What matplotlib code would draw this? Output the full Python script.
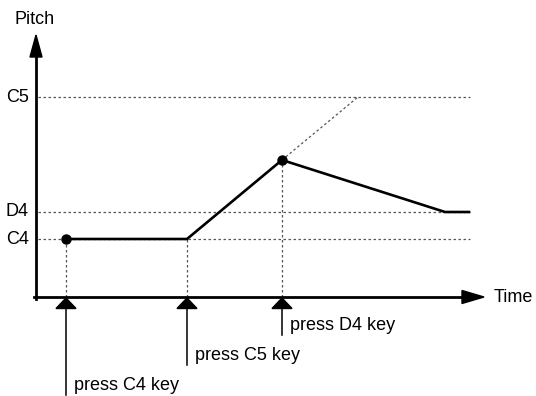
import matplotlib.pyplot as plt
from matplotlib.patches import Polygon

plt.rcParams['font.family'] = ['Liberation Sans', 'DejaVu Sans']

# pitch levels (schematic units above the time axis)
pitch_names = ["C4", "D4", "C5"]
pitch_levels = [0.58, 0.85, 2.00]

# times of key presses and their labels
press_times = [0.30, 1.51, 2.46]
press_labels = ["press C4 key", "press C5 key", "press D4 key"]
press_depth = [-0.98, -0.68, -0.38]   # how far each pointer reaches below the axis

# pitch curve (solid)
curve_t = [0.30, 1.51, 2.46, 4.09, 4.33]
curve_p = [0.58, 0.58, 1.37, 0.85, 0.85]
# where the glide would have continued (dotted)
ext_t = [2.46, 3.22]
ext_p = [1.37, 2.00]
dot_t = [0.30, 2.46]
dot_p = [0.58, 1.37]

fs = 13

fig = plt.figure(figsize=(5.36, 3.96), dpi=100)
ax = fig.add_axes([0, 0, 1, 1])
ax.set_xlim(-0.36, 5.00)
ax.set_ylim(-0.99, 2.97)
ax.axis('off')

dot_style = dict(color='#555555', lw=0.9, ls=(0, (2, 2)))

# horizontal guides
for name, lv in zip(pitch_names, pitch_levels):
    ax.plot([0.02, 4.34], [lv, lv], **dot_style)
    ax.text(-0.07, lv, name, ha='right', va='center', fontsize=fs)

# vertical guides from curve down to axis
ax.plot([press_times[0]] * 2, [0, pitch_levels[0]], **dot_style)
ax.plot([press_times[1]] * 2, [0, pitch_levels[0]], **dot_style)
ax.plot([press_times[2]] * 2, [0, curve_p[2]], **dot_style)
ax.plot(ext_t, ext_p, **dot_style)

# curve
ax.plot(curve_t, curve_p, color='black', lw=1.9, solid_joinstyle='miter')
ax.plot(dot_t, dot_p, 'o', color='black', ms=6.5)

# axes with arrows
ax.plot([0, 0], [-0.02, 2.42], color='black', lw=2.0)
ax.add_patch(Polygon([[-0.06, 2.40], [0.06, 2.40], [0, 2.62]], closed=True, color='black'))
ax.plot([-0.02, 4.28], [0, 0], color='black', lw=2.0)
ax.add_patch(Polygon([[4.26, 0.065], [4.26, -0.065], [4.48, 0]], closed=True, color='black'))
ax.text(-0.01, 2.77, "Pitch", ha='center', va='center', fontsize=fs)
ax.text(4.58, 0.0, "Time", ha='left', va='center', fontsize=fs)

# key press pointers
for t, lab, d in zip(press_times, press_labels, press_depth):
    ax.plot([t, t], [-0.08, d], color='black', lw=1.1)
    ax.add_patch(Polygon([[t - 0.10, -0.115], [t + 0.10, -0.115], [t, -0.01]], closed=True, color='black'))
    ax.text(t + 0.08, d + 0.09, lab, ha='left', va='center', fontsize=fs)

fig.savefig("out.png", dpi=100)
